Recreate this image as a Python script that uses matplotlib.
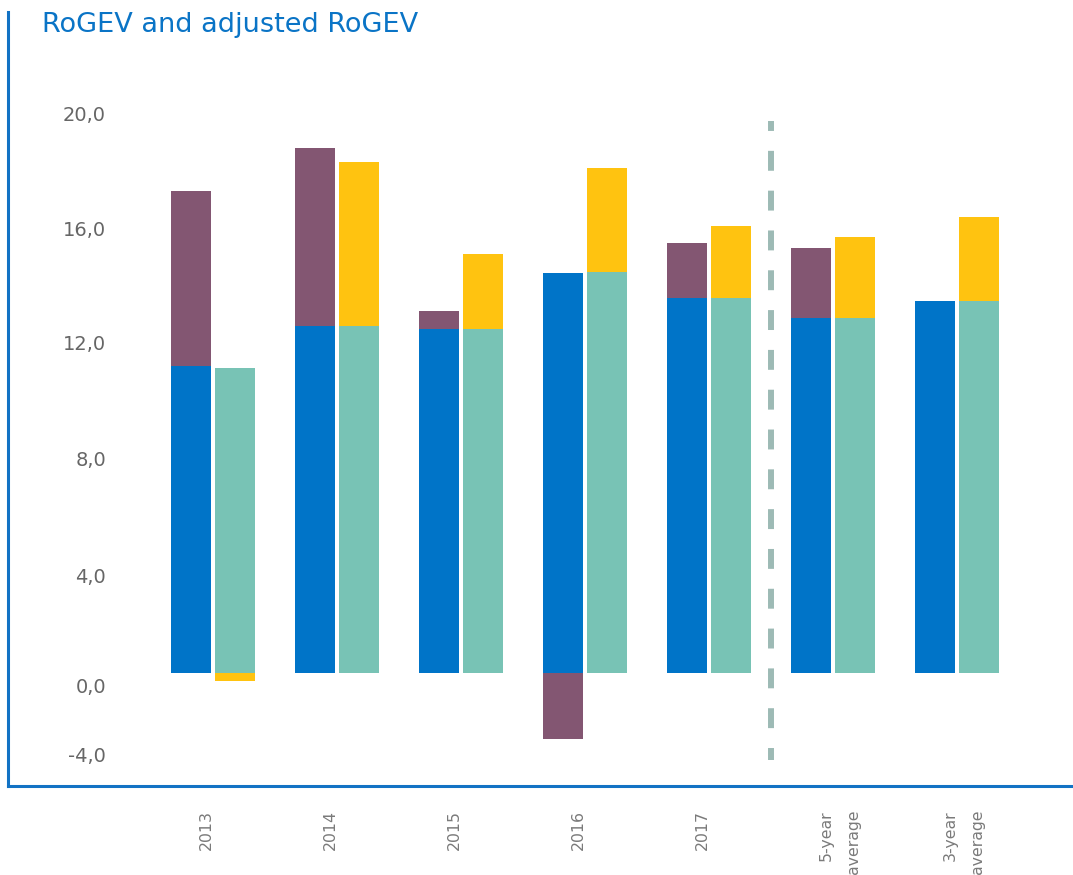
import matplotlib
matplotlib.use("Agg")
import matplotlib.pyplot as plt
import matplotlib.transforms as mtransforms
import numpy as np

# Categories and series values (%)
categories = ["2013", "2014", "2015", "2016", "2017", "5-year\naverage", "3-year\naverage"]
rogev_base = [11.00, 12.44, 12.32, 14.32, 13.43, 12.71, 13.32]
rogev_delta = [6.26, 6.35, 0.64, -2.35, 1.96, 2.50, 0.0]
adjusted_base = [10.92, 12.44, 12.32, 14.36, 13.43, 12.71, 13.32]
adjusted_delta = [-0.26, 5.85, 2.68, 3.72, 2.57, 2.90, 3.00]

ytick_labels = ["20,0", "16,0", "12,0", "8,0", "4,0", "0,0", "-4,0"]
ytick_positions = [20.03, 15.93, 11.84, 7.67, 3.49, -0.42, -2.92]

BLUE = "#0074c8"
PURPLE = "#835672"
TEAL = "#78c3b5"
YELLOW = "#ffc310"
SPINE = "#1272c4"
GRAY = "#666666"
DASH = "#9dbab5"

W, H = 1073, 875
fig = plt.figure(figsize=(W / 100, H / 100), dpi=100)
ax = fig.add_axes([8 / W, (H - 786) / H, 1065 / W, (786 - 12) / H])

x = np.arange(len(categories))
width = 40 / 124
offset = 22 / 124

rb = np.array(rogev_base)
rd = np.array(rogev_delta)
ab = np.array(adjusted_base)
ad = np.array(adjusted_delta)

ax.bar(x - offset, rb, width, color=BLUE, linewidth=0)
ax.bar(x - offset, rd, width, bottom=np.where(rd >= 0, rb, 0), color=PURPLE, linewidth=0)
ax.bar(x + offset, ab, width, color=TEAL, linewidth=0)
ax.bar(x + offset, ad, width, bottom=np.where(ad >= 0, ab, 0), color=YELLOW, linewidth=0)

# Separator between annual figures and averages
sep_x = 4.5
ax.plot([sep_x, sep_x], [19.75, -3.11], color=DASH, linewidth=4.3,
        linestyle=(1.667, (3.333, 3.333)), solid_capstyle="butt", dash_capstyle="butt")

ax.set_xlim(-1.653, 6.935)
ax.set_ylim(-4.03, 23.66)

for side in ("top", "right"):
    ax.spines[side].set_visible(False)
for side in ("left", "bottom"):
    ax.spines[side].set_color(SPINE)
    ax.spines[side].set_linewidth(2.2)

ax.set_yticks(ytick_positions)
ax.set_yticklabels(ytick_labels, fontsize=14, color=GRAY)
ax.tick_params(axis="y", length=0, pad=-70.5)

ax.set_xticks([])
shift = mtransforms.ScaledTranslation(-14 / 100, -24 / 100, fig.dpi_scale_trans)
label_tf = mtransforms.blended_transform_factory(ax.transData, ax.transAxes) + shift
for xi, lab in zip(x, categories):
    ax.text(xi, 0, lab, transform=label_tf,
            rotation=90, ha="left", va="top", multialignment="right",
            fontsize=11.3, color="#7a7a7a", clip_on=False, linespacing=2.0)

fig.text(42 / W, 1 - 32 / H, "RoGEV and adjusted RoGEV", fontsize=19.5,
         color="#0a74c6", ha="left", va="baseline")

fig.savefig("out.png", dpi=100)
